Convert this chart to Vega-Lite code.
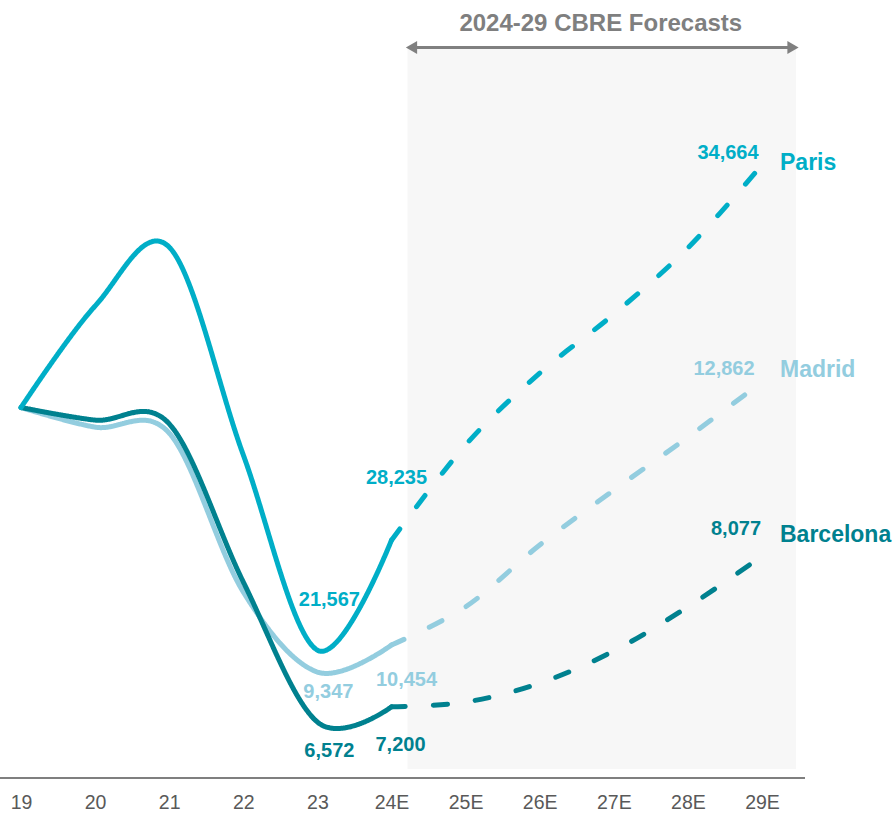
{
  "$schema": "https://vega.github.io/schema/vega-lite/v6.json",
  "width": 805,
  "height": 778,
  "autosize": {"type": "none"},
  "padding": {"left": 0, "top": 0, "right": 91, "bottom": 40},
  "background": "white",
  "config": {"font": "Liberation Sans", "view": {"stroke": null}},
  "datasets": {
    "cities": [
      {"city": "Madrid", "year": "19", "phase": "actual", "index": 100},
      {"city": "Madrid", "year": "20", "phase": "actual", "index": 94.7},
      {"city": "Madrid", "year": "21", "phase": "actual", "index": 93.1},
      {"city": "Madrid", "year": "22", "phase": "actual", "index": 50.2},
      {"city": "Madrid", "year": "23", "phase": "actual", "index": 28.6, "value": 9347},
      {"city": "Madrid", "year": "24E", "phase": "actual", "index": 35.9, "value": 10454},
      {"city": "Madrid", "year": "24E", "phase": "forecast", "index": 35.9, "value": 10454},
      {"city": "Madrid", "year": "25E", "phase": "forecast", "index": 46.2},
      {"city": "Madrid", "year": "26E", "phase": "forecast", "index": 62.9},
      {"city": "Madrid", "year": "27E", "phase": "forecast", "index": 77.7},
      {"city": "Madrid", "year": "28E", "phase": "forecast", "index": 92.0},
      {"city": "Madrid", "year": "29E", "phase": "forecast", "index": 106.9, "value": 12862},
      {"city": "Barcelona", "year": "19", "phase": "actual", "index": 100},
      {"city": "Barcelona", "year": "20", "phase": "actual", "index": 96.6},
      {"city": "Barcelona", "year": "21", "phase": "actual", "index": 95.6},
      {"city": "Barcelona", "year": "22", "phase": "actual", "index": 52.9},
      {"city": "Barcelona", "year": "23", "phase": "actual", "index": 15.1, "value": 6572},
      {"city": "Barcelona", "year": "24E", "phase": "actual", "index": 19.2, "value": 7200},
      {"city": "Barcelona", "year": "24E", "phase": "forecast", "index": 19.2, "value": 7200},
      {"city": "Barcelona", "year": "25E", "phase": "forecast", "index": 20.5},
      {"city": "Barcelona", "year": "26E", "phase": "forecast", "index": 25.6},
      {"city": "Barcelona", "year": "27E", "phase": "forecast", "index": 34.3},
      {"city": "Barcelona", "year": "28E", "phase": "forecast", "index": 46.2},
      {"city": "Barcelona", "year": "29E", "phase": "forecast", "index": 59.9, "value": 8077},
      {"city": "Paris", "year": "19", "phase": "actual", "index": 100},
      {"city": "Paris", "year": "20", "phase": "actual", "index": 127.4},
      {"city": "Paris", "year": "21", "phase": "actual", "index": 143.3},
      {"city": "Paris", "year": "22", "phase": "actual", "index": 87.2},
      {"city": "Paris", "year": "23", "phase": "actual", "index": 34.5, "value": 21567},
      {"city": "Paris", "year": "24E", "phase": "actual", "index": 64.2, "value": 28235},
      {"city": "Paris", "year": "24E", "phase": "forecast", "index": 64.2, "value": 28235},
      {"city": "Paris", "year": "25E", "phase": "forecast", "index": 89.9},
      {"city": "Paris", "year": "26E", "phase": "forecast", "index": 109.3},
      {"city": "Paris", "year": "27E", "phase": "forecast", "index": 125.2},
      {"city": "Paris", "year": "28E", "phase": "forecast", "index": 143.1},
      {"city": "Paris", "year": "29E", "phase": "forecast", "index": 165.5, "value": 34664}
    ],
    "annot": [
      {"from": "24E", "to": "29E", "mid": "27E", "label": "2024-29 CBRE Forecasts", "base": 0}
    ]
  },
  "layer": [
    {
      "data": {"name": "annot"},
      "mark": {"type": "rect", "color": "#f7f7f7", "xOffset": 16, "x2Offset": 34},
      "encoding": {
        "x": {"field": "from", "type": "ordinal", "scale": {"type": "point", "domain": ["19","20","21","22","23","24E","25E","26E","27E","28E","29E"], "range": [21, 762], "padding": 0},
          "axis": {"title": null, "domain": false, "ticks": false, "grid": false, "labelAngle": 0, "labelFontSize": 19.5, "labelColor": "#595959", "labelPadding": 15, "labelFont": "Liberation Sans"}},
        "x2": {"field": "to"},
        "y": {"datum": 2.4, "type": "quantitative", "scale": {"domain": [0, 210], "nice": false, "zero": false}, "axis": null},
        "y2": {"datum": 196.8}
      }
    },
    {
      "data": {"name": "annot"},
      "mark": {"type": "rule", "color": "#7f7f7f", "strokeWidth": 2},
      "encoding": {"y": {"field": "base", "type": "quantitative"}}
    },
    {
      "data": {"name": "annot"},
      "mark": {"type": "rule", "color": "#808080", "strokeWidth": 3, "xOffset": 20, "x2Offset": 31},
      "encoding": {"x": {"field": "from", "type": "ordinal"}, "x2": {"field": "to"}, "y": {"datum": 197.2, "type": "quantitative"}}
    },
    {
      "data": {"name": "annot"},
      "mark": {"type": "point", "shape": "triangle-left", "filled": true, "size": 170, "opacity": 1, "color": "#808080", "xOffset": 20},
      "encoding": {"x": {"field": "from", "type": "ordinal"}, "y": {"datum": 197.2, "type": "quantitative"}}
    },
    {
      "data": {"name": "annot"},
      "mark": {"type": "point", "shape": "triangle-right", "filled": true, "size": 170, "opacity": 1, "color": "#808080", "xOffset": 31},
      "encoding": {"x": {"field": "to", "type": "ordinal"}, "y": {"datum": 197.2, "type": "quantitative"}}
    },
    {
      "data": {"name": "annot"},
      "mark": {"type": "text", "fontSize": 24, "fontWeight": "bold", "dx": -13, "baseline": "middle", "align": "center", "color": "#7f7f7f"},
      "encoding": {"x": {"field": "mid", "type": "ordinal"}, "y": {"datum": 203.5, "type": "quantitative"}, "text": {"field": "label"}}
    },
    {
      "data": {"name": "cities"},
      "encoding": {
        "x": {"field": "year", "type": "ordinal"},
        "y": {"field": "index", "type": "quantitative"},
        "color": {"field": "city", "type": "nominal", "scale": {"domain": ["Paris", "Madrid", "Barcelona"], "range": ["#00AEC7", "#93CDDF", "#00818F"]}, "legend": null}
      },
      "layer": [
        {
          "mark": {"type": "line", "interpolate": "cardinal", "tension": 0, "strokeWidth": 5, "strokeCap": "round", "strokeJoin": "round"},
          "encoding": {
            "strokeDash": {"field": "phase", "type": "nominal", "scale": {"domain": ["actual", "forecast"], "range": [[1, 0], [14, 28]]}, "legend": null}
          }
        },
        {"transform": [{"filter": "datum.city === 'Paris' && datum.year === '23'"}],
         "mark": {"type": "text", "fontSize": 20, "fontWeight": "bold", "dx": 12, "dy": -50, "baseline": "middle"},
         "encoding": {"text": {"field": "value", "type": "quantitative", "format": ","}}},
        {"transform": [{"filter": "datum.city === 'Paris' && datum.year === '24E' && datum.phase === 'actual'"}],
         "mark": {"type": "text", "fontSize": 20, "fontWeight": "bold", "dx": 5, "dy": -62, "baseline": "middle"},
         "encoding": {"text": {"field": "value", "type": "quantitative", "format": ","}}},
        {"transform": [{"filter": "datum.city === 'Paris' && datum.year === '29E'"}],
         "mark": {"type": "text", "fontSize": 20, "fontWeight": "bold", "dx": -34, "dy": -12, "baseline": "middle"},
         "encoding": {"text": {"field": "value", "type": "quantitative", "format": ","}}},
        {"transform": [{"filter": "datum.city === 'Madrid' && datum.year === '23'"}],
         "mark": {"type": "text", "fontSize": 20, "fontWeight": "bold", "dx": 11, "dy": 20, "baseline": "middle"},
         "encoding": {"text": {"field": "value", "type": "quantitative", "format": ","}}},
        {"transform": [{"filter": "datum.city === 'Madrid' && datum.year === '24E' && datum.phase === 'actual'"}],
         "mark": {"type": "text", "fontSize": 20, "fontWeight": "bold", "dx": 15, "dy": 35, "baseline": "middle"},
         "encoding": {"text": {"field": "value", "type": "quantitative", "format": ","}}},
        {"transform": [{"filter": "datum.city === 'Madrid' && datum.year === '29E'"}],
         "mark": {"type": "text", "fontSize": 20, "fontWeight": "bold", "dx": -38, "dy": -13, "baseline": "middle"},
         "encoding": {"text": {"field": "value", "type": "quantitative", "format": ","}}},
        {"transform": [{"filter": "datum.city === 'Barcelona' && datum.year === '23'"}],
         "mark": {"type": "text", "fontSize": 20, "fontWeight": "bold", "dx": 12, "dy": 29, "baseline": "middle"},
         "encoding": {"text": {"field": "value", "type": "quantitative", "format": ","}}},
        {"transform": [{"filter": "datum.city === 'Barcelona' && datum.year === '24E' && datum.phase === 'actual'"}],
         "mark": {"type": "text", "fontSize": 20, "fontWeight": "bold", "dx": 9, "dy": 38, "baseline": "middle"},
         "encoding": {"text": {"field": "value", "type": "quantitative", "format": ","}}},
        {"transform": [{"filter": "datum.city === 'Barcelona' && datum.year === '29E'"}],
         "mark": {"type": "text", "fontSize": 20, "fontWeight": "bold", "dx": -26, "dy": -27, "baseline": "middle"},
         "encoding": {"text": {"field": "value", "type": "quantitative", "format": ","}}},
        {"transform": [{"filter": "datum.city === 'Paris' && datum.year === '29E'"}],
         "mark": {"type": "text", "fontSize": 23, "fontWeight": "bold", "dx": 18, "dy": -2, "align": "left", "baseline": "middle"},
         "encoding": {"text": {"field": "city"}}},
        {"transform": [{"filter": "datum.city === 'Madrid' && datum.year === '29E'"}],
         "mark": {"type": "text", "fontSize": 23, "fontWeight": "bold", "dx": 18, "dy": -12, "align": "left", "baseline": "middle"},
         "encoding": {"text": {"field": "city"}}},
        {"transform": [{"filter": "datum.city === 'Barcelona' && datum.year === '29E'"}],
         "mark": {"type": "text", "fontSize": 23, "fontWeight": "bold", "dx": 18, "dy": -21, "align": "left", "baseline": "middle"},
         "encoding": {"text": {"field": "city"}}}
      ]
    }
  ]
}
